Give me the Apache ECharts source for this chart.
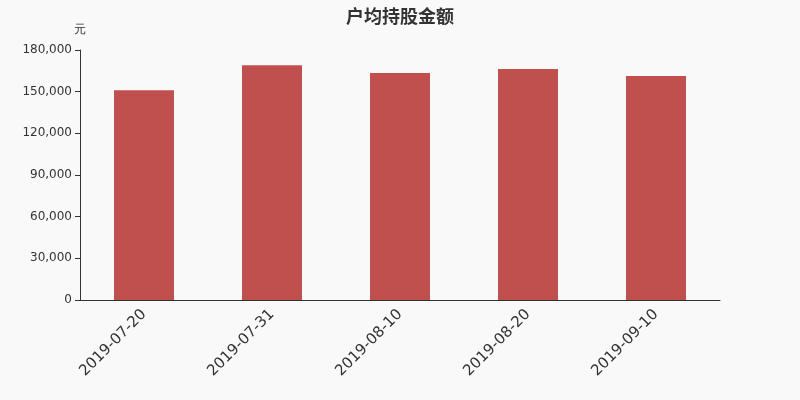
<!DOCTYPE html>
<html><head><meta charset="utf-8">
<script src="https://cdn.jsdelivr.net/npm/echarts@6/dist/echarts.min.js"></script>
<style>html,body{margin:0;padding:0;background:#f9f9f9;}#c{width:800px;height:400px;}</style>
</head><body><div id="c"></div>
<script>
var categories = ['2019-07-20','2019-07-31','2019-08-10','2019-08-20','2019-09-10'];
var values = [151000, 169000, 163400, 166300, 161300];
var yTicks = [0, 30000, 60000, 90000, 120000, 150000, 180000];
var chart = echarts.init(document.getElementById('c'));
chart.setOption({
  backgroundColor: '#f9f9f9',
  animation: false,
  title: { text: '户均持股金额', left: 'center', top: 2, textStyle: { fontSize: 18, fontWeight: 'bold', color: '#333', fontFamily: 'Noto Sans CJK SC' } },
  grid: { left: 80, right: 80, top: 50, bottom: 100 },
  xAxis: {
    type: 'category', data: categories,
    axisLine: { lineStyle: { color: '#333' } },
    axisTick: { alignWithLabel: false, lineStyle: { color: '#333' } },
    axisLabel: { rotate: 45, fontSize: 15, color: '#333', margin: 12, fontFamily: 'DejaVu Sans' }
  },
  yAxis: {
    type: 'value', min: yTicks[0], max: yTicks[yTicks.length-1], interval: 30000,
    name: '元', nameGap: 14, nameTextStyle: { color: '#333', fontSize: 12 },
    axisLine: { show: true, lineStyle: { color: '#333' } },
    axisTick: { show: true, lineStyle: { color: '#333' } },
    splitLine: { show: false },
    axisLabel: { color: '#333', fontSize: 12, fontFamily: 'DejaVu Sans', formatter: function(v){ return v.toLocaleString('en-US'); } }
  },
  series: [{ type: 'bar', data: values, barWidth: 60, itemStyle: { color: '#c0504d' } }]
});
</script></body></html>
